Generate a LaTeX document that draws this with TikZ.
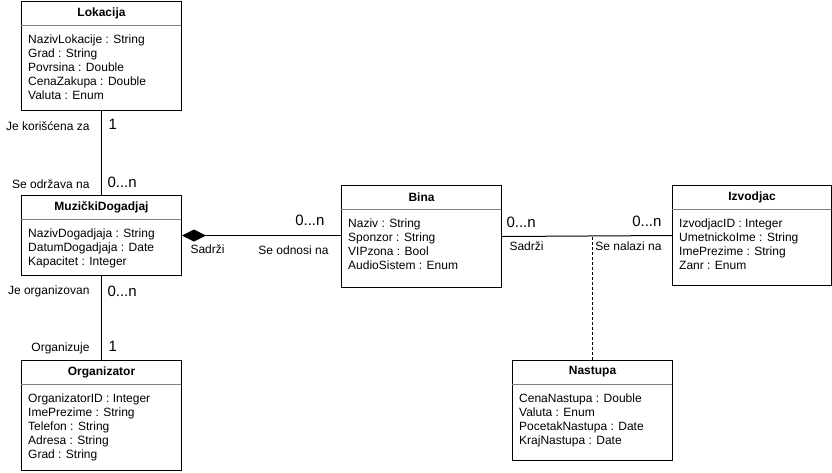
\documentclass[tikz,border=0pt]{standalone}
\usepackage{fontspec}
\setmainfont{Liberation Sans}
\usetikzlibrary{arrows.meta}

\tikzset{
  klasa/.style={draw, line width=1pt, anchor=north west, minimum width=160pt, inner sep=0pt},
  ime/.style={font=\fontsize{12}{14}\selectfont\bfseries},
  polja/.style={anchor=north west, align=left, inner sep=0pt, font=\fontsize{12}{14}\selectfont},
  crta/.style={gray, line width=1pt},
  uloga/.style={font=\fontsize{12}{14}\selectfont},
  broj/.style={font=\fontsize{15}{18}\selectfont},
  veza/.style={line width=1pt}
}

\begin{document}
\begin{tikzpicture}[x=1pt, y=-1pt]
\useasboundingbox (0,0) rectangle (832,472);

% klase
\node [klasa, minimum height=109pt] (lok) at (21,1) {};
\draw [crta] (lok.north west) ++(0,24) -- ++(160,0);
\node [ime] (lokIme) at ([yshift=-12pt]lok.north) {Lokacija};
\node [polja] (lokPolja) at ([xshift=7pt, yshift=-34pt]lok.north west)
  {NazivLokacije : String\\Grad : String\\Povrsina : Double\\CenaZakupa : Double\\Valuta : Enum};

\node [klasa, minimum height=80pt] (md) at (21,195) {};
\draw [crta] (md.north west) ++(0,24) -- ++(160,0);
\node [ime] (mdIme) at ([yshift=-12pt]md.north) {MuzičkiDogadjaj};
\node [polja] (mdPolja) at ([xshift=7pt, yshift=-34pt]md.north west)
  {NazivDogadjaja : String\\DatumDogadjaja : Date\\Kapacitet : Integer};

\node [klasa, minimum height=110pt] (org) at (21,360) {};
\draw [crta] (org.north west) ++(0,24) -- ++(160,0);
\node [ime] (orgIme) at ([yshift=-12pt]org.north) {Organizator};
\node [polja] (orgPolja) at ([xshift=7pt, yshift=-34pt]org.north west)
  {OrganizatorID : Integer\\ImePrezime : String\\Telefon : String\\Adresa : String\\Grad : String};

\node [klasa, minimum height=102pt] (bina) at (341,185) {};
\draw [crta] (bina.north west) ++(0,24) -- ++(160,0);
\node [ime] (binaIme) at ([yshift=-12pt]bina.north) {Bina};
\node [polja] (binaPolja) at ([xshift=7pt, yshift=-34pt]bina.north west)
  {Naziv : String\\Sponzor : String\\VIPzona : Bool\\AudioSistem : Enum};

\node [klasa, minimum width=159pt, minimum height=100pt] (izv) at (672,185) {};
\draw [crta] (izv.north west) ++(0,24) -- ++(159,0);
\node [ime] (izvIme) at ([yshift=-12pt]izv.north) {Izvodjac};
\node [polja] (izvPolja) at ([xshift=7pt, yshift=-34pt]izv.north west)
  {IzvodjacID : Integer\\UmetnickoIme : String\\ImePrezime : String\\Zanr : Enum};

\node [klasa, minimum height=100pt] (nas) at (512,360) {};
\draw [crta] (nas.north west) ++(0,24) -- ++(160,0);
\node [ime] (nasIme) at ([yshift=-12pt]nas.north) {Nastupa};
\node [polja] (nasPolja) at ([xshift=7pt, yshift=-34pt]nas.north west)
  {CenaNastupa : Double\\Valuta : Enum\\PocetakNastupa : Date\\KrajNastupa : Date};

% veze
\draw [veza] (lok.south) -- (md.north);
\draw [veza] (md.south) -- (org.north);
\draw [veza, {Diamond[length=24pt, width=12pt]}-] (md.east) -- (md.east -| bina.west);
\draw [veza] (bina.east) -- (izv.west);
\draw [veza, dash pattern=on 3pt off 2pt] (nas.north |- bina.east) -- (nas.north);

% uloge i kardinalnosti
\node [uloga, anchor=east] at (93,126) {Je korišćena za};
\node [broj, anchor=west] at (105,124) {1};
\node [uloga, anchor=east] at (93,184) {Se održava na};
\node [broj, anchor=west] at (104,182) {0...n};
\node [uloga, anchor=east] at (93,291) {Je organizovan};
\node [broj, anchor=west] at (104,291) {0...n};
\node [uloga, anchor=east] at (93,348) {Organizuje};
\node [broj, anchor=west] at (105,346) {1};

\node [uloga, anchor=west] at (187,249) {Sadrži};
\node [uloga, anchor=east] at (332,250) {Se odnosi na};
\node [broj, anchor=east] at (328,220) {0...n};

\node [broj, anchor=west] at (503,222) {0...n};
\node [uloga, anchor=west] at (506,246) {Sadrži};
\node [broj, anchor=east] at (665,221) {0...n};
\node [uloga, anchor=east] at (665,246) {Se nalazi na};
\end{tikzpicture}
\end{document}
